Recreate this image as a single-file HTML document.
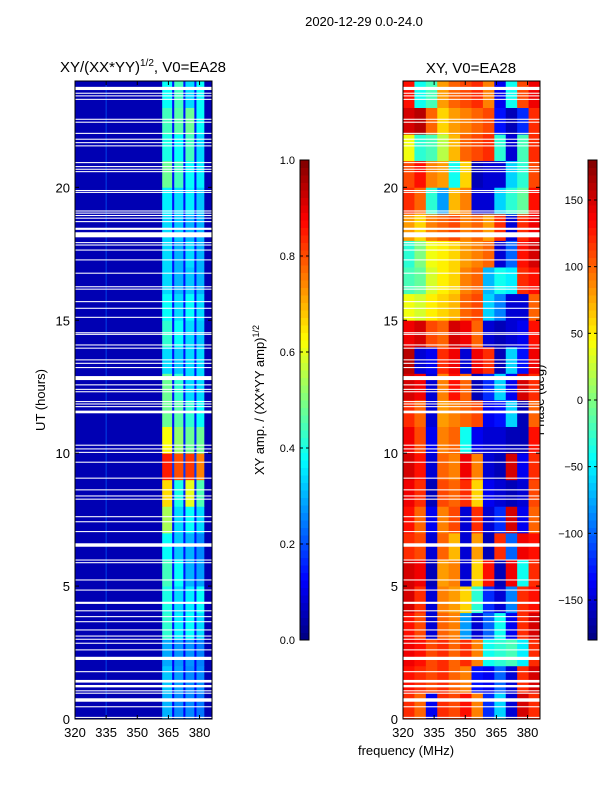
<!DOCTYPE html>
<html><head><meta charset="utf-8"><style>
body{margin:0;background:#fff;}
svg{display:block;font-family:"Liberation Sans",sans-serif;}
</style></head><body>
<svg id="fig" width="600" height="800" viewBox="0 0 600 800">
<rect width="600" height="800" fill="#fff"/>
<text x="364" y="26" font-size="13" text-anchor="middle">2020-12-29 0.0-24.0</text>
<text x="143" y="72" font-size="15" text-anchor="middle">XY/(XX*YY)<tspan font-size="10" dy="-6">1/2</tspan><tspan dy="6">, V0=EA28</tspan></text>
<text x="471" y="73" font-size="15" text-anchor="middle">XY, V0=EA28</text>
<text x="406" y="755" font-size="13" text-anchor="middle">frequency (MHz)</text>
<text transform="translate(45,400) rotate(-90)" font-size="13" text-anchor="middle">UT (hours)</text>
<text transform="translate(264,400) rotate(-90)" font-size="13" text-anchor="middle">XY amp. / (XX*YY amp)<tspan font-size="9" dy="-5">1/2</tspan></text>
<text transform="translate(544,400) rotate(-90)" font-size="13" text-anchor="middle">Phase (deg)</text>
<g id="gL"></g>
<g id="gR"></g>
<g id="cb"></g>
<g id="ax"></g>
</svg>
<script>
// ---- data ----
const ampBinEdges = [320,362,366.8,367.8,372.2,373.2,377.5,378.5,382.3,386];
const ampRows = [
[0.05,0.30,0.12,0.26,0.12,0.26,0.12,0.24,0.05],
[0.05,0.32,0.12,0.28,0.12,0.26,0.12,0.26,0.05],
[0.05,0.29,0.12,0.27,0.12,0.27,0.12,0.25,0.05],
[0.05,0.42,0.14,0.36,0.14,0.38,0.14,0.34,0.05],
[0.05,0.40,0.14,0.34,0.14,0.36,0.14,0.38,0.05],
[0.05,0.44,0.14,0.38,0.14,0.30,0.14,0.28,0.05],
[0.05,0.38,0.14,0.32,0.14,0.30,0.14,0.26,0.05],
[0.05,0.54,0.14,0.34,0.14,0.38,0.14,0.34,0.05],
[0.05,0.66,0.15,0.40,0.15,0.60,0.15,0.45,0.05],
[0.05,0.85,0.18,0.80,0.18,0.82,0.18,0.75,0.05],
[0.05,0.62,0.15,0.52,0.15,0.48,0.15,0.48,0.05],
[0.05,0.48,0.14,0.46,0.14,0.42,0.14,0.38,0.05],
[0.05,0.48,0.14,0.42,0.14,0.34,0.14,0.34,0.05],
[0.05,0.34,0.14,0.32,0.14,0.34,0.14,0.34,0.05],
[0.05,0.42,0.14,0.38,0.14,0.34,0.14,0.32,0.05],
[0.05,0.38,0.14,0.34,0.14,0.38,0.14,0.34,0.05],
[0.05,0.34,0.14,0.30,0.14,0.32,0.14,0.30,0.05],
[0.05,0.34,0.14,0.30,0.14,0.34,0.14,0.30,0.05],
[0.05,0.34,0.14,0.32,0.14,0.30,0.14,0.30,0.05],
[0.05,0.36,0.14,0.34,0.14,0.36,0.14,0.32,0.05],
[0.05,0.48,0.14,0.44,0.14,0.38,0.14,0.36,0.05],
[0.05,0.40,0.14,0.38,0.14,0.44,0.14,0.34,0.05],
[0.05,0.44,0.14,0.46,0.14,0.48,0.14,0.38,0.05],
[0.05,0.38,0.14,0.44,0.14,0.34,0.14,0.38,0.05]];
const rfiChannel = 335;
const phaseBinEdges = [320,325.5,331,336.5,342,347.5,353,358.5,364,369.5,375,380.5,386];
const phaseRows = [
[120,100,-140,120,110,130,90,-120,-60,-150,150,120],
[130,120,110,120,100,90,-130,-140,-100,-150,120,150],
[140,130,110,120,100,120,90,-40,-30,-20,-50,120],
[130,110,-150,100,90,-80,-150,-100,-40,-140,120,150],
[150,120,-150,90,80,60,-30,-120,-150,-90,120,130],
[150,140,-160,80,90,-150,60,130,-160,140,-40,120],
[120,110,-150,100,70,-150,80,-160,120,-100,140,130],
[130,100,-140,90,110,-150,120,-150,-120,150,-140,100],
[140,120,-160,110,100,120,60,-140,-150,-160,-150,110],
[150,130,-150,100,90,140,90,-150,-160,150,-140,120],
[140,110,-140,90,100,-40,-140,-150,-150,-160,-160,130],
[120,100,-150,80,90,100,110,-140,-130,-60,-160,100],
[150,140,-150,90,130,100,-160,-120,-60,-140,150,120],
[160,-150,-140,120,140,-150,140,120,-160,-60,-130,140],
[140,150,110,100,150,140,100,-150,-160,-150,-140,130],
[40,30,50,60,70,100,110,-60,-90,-150,-150,100],
[-20,-10,30,50,60,90,100,-70,-40,-50,120,130],
[-30,0,40,50,60,80,90,100,-150,-100,130,150],
[80,60,90,100,110,90,100,80,120,-150,120,140],
[120,100,-30,-80,70,90,-150,-150,-60,-30,-10,130],
[110,130,90,80,-40,60,-160,-150,-150,-60,-30,110],
[40,-30,-20,20,70,100,110,120,-30,-150,-20,120],
[150,160,100,60,80,90,100,110,-130,-160,-120,120],
[130,-40,-20,80,100,110,120,90,-140,-40,110,140]];
const flagStart = [23.66,23.52,23.42,23.29,22.54,22.43,22.01,21.79,21.66,21.54,20.91,20.76,20.66,20.57,19.86,19.79,19.09,19.01,18.92,18.82,18.69,18.40,18.12,17.90,17.81,17.62,17.25,16.75,16.24,16.15,15.68,15.43,15.09,14.51,14.45,14.05,13.93,13.49,13.36,13.20,12.75,12.55,12.38,12.29,11.92,11.83,11.73,11.50,10.28,10.14,10.01,9.64,9.04,8.60,8.37,8.25,7.59,7.40,7.03,6.48,5.96,5.86,5.21,4.83,4.33,4.05,3.83,3.64,3.33,3.10,2.98,2.83,2.58,2.22,1.76,1.37,1.19,1.04,0.95,0.65,0.44,0.04];
const flagEnd =   [23.78,23.56,23.46,23.33,22.58,22.47,22.05,21.83,21.70,21.58,20.95,20.80,20.70,20.61,19.90,19.83,19.13,19.05,18.96,18.86,18.73,18.48,18.31,17.94,17.85,17.66,17.29,16.79,16.28,16.19,15.72,15.47,15.13,14.55,14.49,14.09,13.97,13.53,13.40,13.24,12.90,12.59,12.42,12.33,11.96,11.87,11.77,11.60,10.32,10.18,10.05,9.68,9.08,8.64,8.41,8.29,7.63,7.44,7.07,6.61,6.00,5.90,5.25,4.87,4.41,4.09,3.87,3.68,3.37,3.14,3.02,2.87,2.62,2.34,1.80,1.47,1.28,1.08,0.99,0.78,0.48,0.08];
const xTicks = [320,335,350,365,380];
const yTicks = [0,5,10,15,20];
const ampTicks = [0.0,0.2,0.4,0.6,0.8,1.0];
const phaseTicks = [-150,-100,-50,0,50,100,150];

// ---- helpers ----
const NS='http://www.w3.org/2000/svg';
function jet(t){t=Math.max(0,Math.min(1,t));
 const c=v=>Math.round(255*Math.max(0,Math.min(1,v)));
 return `rgb(${c(1.5-Math.abs(4*t-3))},${c(1.5-Math.abs(4*t-2))},${c(1.5-Math.abs(4*t-1))})`;}
function mk(tag,attrs,parent){const e=document.createElementNS(NS,tag);for(const k in attrs)e.setAttribute(k,attrs[k]);parent.appendChild(e);return e;}
const T=81,B=719, fMin=320,fMax=386;
const yH=h=>B-(h/24)*(B-T);
const xL=f=>75+(f-fMin)/(fMax-fMin)*137;
const xR=f=>403+(f-fMin)/(fMax-fMin)*137;
const gL=document.getElementById('gL'),gR=document.getElementById('gR'),cb=document.getElementById('cb'),ax=document.getElementById('ax');

ampRows.forEach((row,h)=>row.forEach((v,i)=>{
 const r=mk('rect',{x:xL(ampBinEdges[i]),y:yH(h+1),width:xL(ampBinEdges[i+1])-xL(ampBinEdges[i])+0.4,height:yH(h)-yH(h+1)+0.4,fill:jet(v)},gL);
 
 
}));
const rl=mk('rect',{x:xL(rfiChannel)-0.5,y:T,width:1,height:B-T,fill:jet(0.22),opacity:0.7},gL);


phaseRows.forEach((row,h)=>row.forEach((v,i)=>{
 const r=mk('rect',{x:xR(phaseBinEdges[i]),y:yH(h+1),width:xR(phaseBinEdges[i+1])-xR(phaseBinEdges[i])+0.4,height:yH(h)-yH(h+1)+0.4,fill:jet((v+180)/360)},gR);
 
 
}));
flagStart.forEach((s,k)=>{
 [[75,gL],[403,gR]].forEach(([x0,g])=>{
  const r=mk('rect',{x:x0,y:yH(flagEnd[k]),width:137,height:Math.max(1,yH(s)-yH(flagEnd[k])),fill:'#fff'},g);
  
  
 });
});
// axes frames & ticks
[[75,xL],[403,xR]].forEach(([x0,xf])=>{
 const f=mk('rect',{x:x0,y:T,width:137,height:B-T,fill:'none',stroke:'#000','stroke-width':1},ax);
 
 
 xTicks.forEach(t=>{
  mk('line',{x1:xf(t),x2:xf(t),y1:B,y2:B-4,stroke:'#000'},ax);
  mk('line',{x1:xf(t),x2:xf(t),y1:T,y2:T+4,stroke:'#000'},ax);
  const tx=mk('text',{x:xf(t),y:737,'font-size':13,'text-anchor':'middle'},ax);tx.textContent=t;
  
  
 });
 yTicks.forEach(t=>{
  mk('line',{x1:x0,x2:x0+4,y1:yH(t),y2:yH(t),stroke:'#000'},ax);
  mk('line',{x1:x0+137,x2:x0+133,y1:yH(t),y2:yH(t),stroke:'#000'},ax);
  const tx=mk('text',{x:x0-5,y:yH(t)+5,'font-size':13,'text-anchor':'end'},ax);tx.textContent=t;
  
  
 });
});
// colorbars
function colorbar(x,lo,hi,ticks,name){
 const n=64,h=480,top=160;
 for(let i=0;i<n;i++){mk('rect',{x:x,y:top+h-(i+1)*h/n,width:9,height:h/n+0.5,fill:jet((i+0.5)/n)},cb);}
 const f=mk('rect',{x:x,y:top,width:9,height:h,fill:'none',stroke:'#000'},cb);
 
 
 ticks.forEach(t=>{
  const y=top+h-(t-lo)/(hi-lo)*h;
  mk('line',{x1:x,x2:x+3,y1:y,y2:y,stroke:'#000'},cb);
  mk('line',{x1:x+9,x2:x+6,y1:y,y2:y,stroke:'#000'},cb);
  const tx=mk('text',{x:x-5,y:y+4,'font-size':11,'text-anchor':'end'},cb);
  tx.textContent=(name==='amp-colorbar')?t.toFixed(1):String(t).replace('-','\u2212');
  
  
 });
}
colorbar(300,0,1,ampTicks,'amp-colorbar');
colorbar(588,-180,180,phaseTicks,'phase-colorbar');
</script>
</body></html>
